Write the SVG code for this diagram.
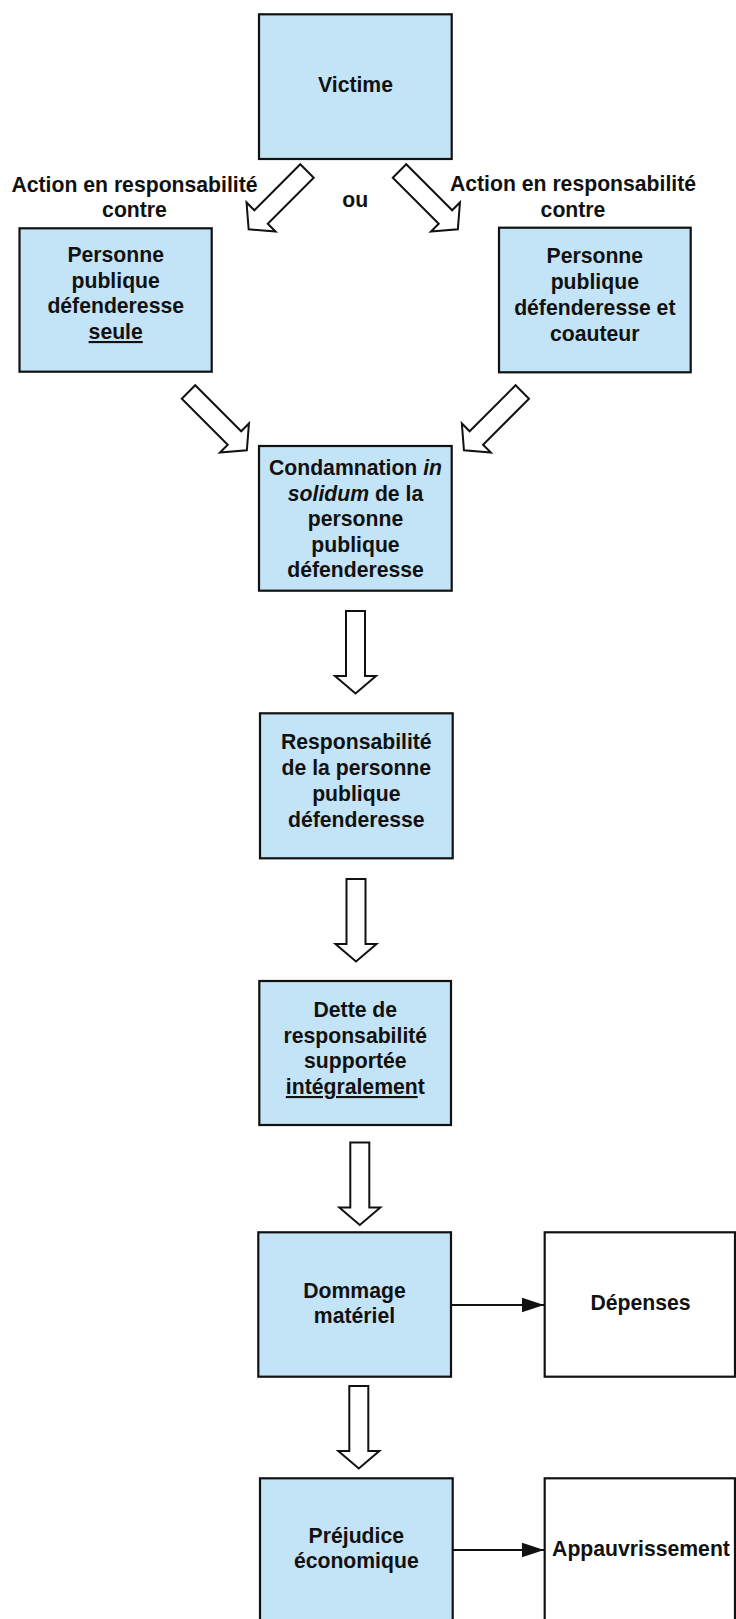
<svg xmlns="http://www.w3.org/2000/svg" width="736" height="1619" viewBox="0 0 736 1619">
<style>
.box{fill:#c3e3f6;stroke:#111;stroke-width:2.2}
.wbox{fill:#fff;stroke:#111;stroke-width:2.2}
.t{font-family:"Liberation Sans",Arial,sans-serif;font-weight:bold;font-size:21.2px;fill:#111;text-anchor:middle}
.blk{fill:#fff;stroke:#111;stroke-width:2}
.ln{stroke:#111;stroke-width:2;fill:none}
.u{text-decoration:underline}
.i{font-style:italic}
</style>
<defs>
<path id="barrow" d="M-9.5,0 H9.5 V65 H20.5 L0,82.5 L-20.5,65 H-9.5 Z"/>
<marker id="ah" markerUnits="userSpaceOnUse" markerWidth="22" markerHeight="15" refX="22" refY="7.3" orient="auto">
<path d="M0,0 L22,7.3 L0,14.6 Z" fill="#111"/>
</marker>
</defs>
<rect width="736" height="1619" fill="#fff"/>

<g id="connectors">
<use href="#barrow" class="blk" transform="translate(307,171) rotate(45)"/>
<use href="#barrow" class="blk" transform="translate(399.5,171) rotate(-45)"/>
<use href="#barrow" class="blk" transform="translate(188.5,392) rotate(-45)"/>
<use href="#barrow" class="blk" transform="translate(522.3,392) rotate(45)"/>
<use href="#barrow" class="blk" transform="translate(355.5,611)"/>
<use href="#barrow" class="blk" transform="translate(356,879)"/>
<use href="#barrow" class="blk" transform="translate(359.8,1142.5)"/>
<use href="#barrow" class="blk" transform="translate(358.8,1386)"/>
<line class="ln" x1="452" y1="1305" x2="544" y2="1305" marker-end="url(#ah)"/>
<line class="ln" x1="453" y1="1550" x2="544" y2="1550" marker-end="url(#ah)"/>
</g>

<g id="labels">
<text class="t" x="134.5" y="191.5">Action en responsabilité</text>
<text class="t" x="134.5" y="217.3">contre</text>
<text class="t" x="573" y="190.7">Action en responsabilité</text>
<text class="t" x="573" y="217.3">contre</text>
<text class="t" x="355.3" y="206.7">ou</text>
</g>

<g id="victime">
<rect class="box" x="259" y="14.3" width="192.7" height="144.7"/>
<text class="t" x="355.5" y="91.5">Victime</text>
</g>

<g id="pp-seule">
<rect class="box" x="19.5" y="228.3" width="192.2" height="143.4"/>
<text class="t" x="115.7" y="261.7">Personne</text>
<text class="t" x="115.7" y="287.5">publique</text>
<text class="t" x="115.7" y="313.3">défenderesse</text>
<text class="t u" x="115.7" y="339">seule</text>
</g>

<g id="pp-coauteur">
<rect class="box" x="499" y="227.7" width="191.7" height="144.6"/>
<text class="t" x="594.8" y="262.7">Personne</text>
<text class="t" x="594.8" y="288.7">publique</text>
<text class="t" x="594.8" y="314.7">défenderesse et</text>
<text class="t" x="594.8" y="340.7">coauteur</text>
</g>

<g id="condamnation">
<rect class="box" x="259" y="446" width="192.7" height="144.7"/>
<text class="t" x="355.5" y="475">Condamnation <tspan class="i">in</tspan></text>
<text class="t" x="355.5" y="500.6"><tspan class="i">solidum</tspan> de la</text>
<text class="t" x="355.5" y="526.2">personne</text>
<text class="t" x="355.5" y="551.8">publique</text>
<text class="t" x="355.5" y="577.4">défenderesse</text>
</g>

<g id="responsabilite">
<rect class="box" x="260" y="713.3" width="192.7" height="145"/>
<text class="t" x="356.3" y="749.3">Responsabilité</text>
<text class="t" x="356.3" y="775.1">de la personne</text>
<text class="t" x="356.3" y="800.9">publique</text>
<text class="t" x="356.3" y="826.7">défenderesse</text>
</g>

<g id="dette">
<rect class="box" x="259.3" y="981" width="191.7" height="144"/>
<text class="t" x="355.3" y="1016.7">Dette de</text>
<text class="t" x="355.3" y="1042.5">responsabilité</text>
<text class="t" x="355.3" y="1068.3">supportée</text>
<text class="t" x="355.3" y="1094"><tspan class="u">intégralemen</tspan>t</text>
</g>

<g id="dommage">
<rect class="box" x="258.3" y="1232.3" width="192.7" height="144.4"/>
<text class="t" x="354.5" y="1297.7">Dommage</text>
<text class="t" x="354.5" y="1323.3">matériel</text>
</g>

<g id="depenses">
<rect class="wbox" x="544.7" y="1232.3" width="190.3" height="144.4"/>
<text class="t" x="640.5" y="1310">Dépenses</text>
</g>

<g id="prejudice">
<rect class="box" x="260" y="1478.3" width="192.7" height="145"/>
<text class="t" x="356.3" y="1543.3">Préjudice</text>
<text class="t" x="356.3" y="1568.3">économique</text>
</g>

<g id="appauvrissement">
<rect class="wbox" x="544.7" y="1478.3" width="190.3" height="145"/>
<text class="t" x="641" y="1556">Appauvrissement</text>
</g>
</svg>
